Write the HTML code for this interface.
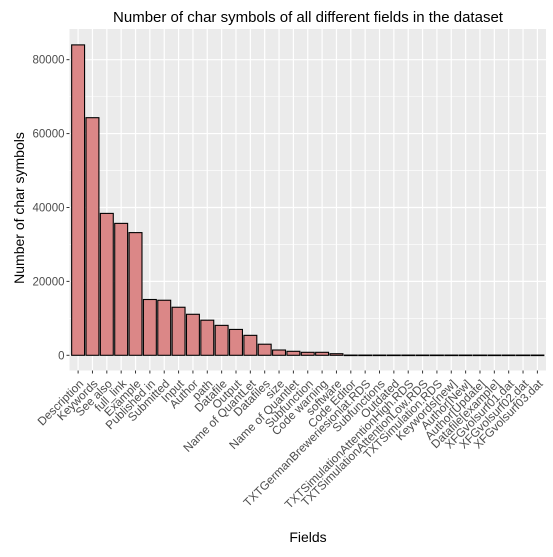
<!DOCTYPE html>
<html><head><meta charset="utf-8"><style>
body{margin:0;background:#fff;}
svg{font-family:"Liberation Sans",Arial,sans-serif;}
</style></head><body>
<svg id="chart" width="553" height="552">
<rect width="553" height="552" fill="#fff"/>
<text x="308" y="22" text-anchor="middle" font-size="15" fill="#000">Number of char symbols of all different fields in the dataset</text>
<text transform="translate(24,208) rotate(-90)" text-anchor="middle" font-size="14" fill="#000">Number of char symbols</text>
<text x="308" y="542" text-anchor="middle" font-size="14" fill="#000">Fields</text>
<g id="g"></g>
</svg>
<script>
const categories=["Description","Keywords","See also","full_link","Example","Published in","Submitted","Input","Author","path","Datafile","Output","Name of QuantLet","Datafiles","size","Name of Quantlet","Subfunction","Code warning","software","Code Editor","TXTGermanBreweriesionlat.RDS","Subfunctions","Outdated","TXTSimulationAttentionHigh.RDS","TXTSimulationAttentionLow.RDS","TXTSimulation.RDS","Keywords[new]","Author[New]","Author[Update]","Datafile[example]","XFGvolsurf01.dat","XFGvolsurf02.dat","XFGvolsurf03.dat"];
const values=[84000,64300,38400,35700,33200,15100,14900,13000,11100,9500,8100,7000,5400,3000,1430,1080,810,810,430,60,60,60,60,60,60,60,60,60,60,60,60,60,60];
const yTicks=[0,20000,40000,60000,80000];
const NS="http://www.w3.org/2000/svg";
const g=document.getElementById('g');
const L=69.5,R=546,T=29,B=355.3;
const yMax=88300;
const step=(R-L)/(categories.length+0.2);
const x=i=>L+step*(0.6+i);
function mk(t,a,p){const e=document.createElementNS(NS,t);for(const k in a)e.setAttribute(k,a[k]);(p||g).appendChild(e);return e;}
const yBottom=370.5;
const panel=mk('rect',{x:L,y:T,width:R-L,height:yBottom-T,fill:'#ebebeb'});


const ys=v=>B-v*(B-T)/yMax;
for(let i=0;i<yTicks.length;i++){const m=yTicks[i]+10000;const yy=ys(m);if(yy>T){const l=mk('line',{x1:L,x2:R,y1:yy,y2:yy,stroke:'#fff','stroke-width':0.6});}}
yTicks.forEach(t=>{const yy=ys(t);
const l=mk('line',{x1:L,x2:R,y1:yy,y2:yy,stroke:'#fff','stroke-width':1.2});


const tk=mk('line',{x1:L-3,x2:L,y1:yy,y2:yy,stroke:'#333','stroke-width':1});


const tx=mk('text',{x:L-5,y:yy+4,'text-anchor':'end','font-size':11.5,fill:'#4d4d4d'});tx.textContent=t;


});
categories.forEach((c,i)=>{const xx=x(i);
const l=mk('line',{x1:xx,x2:xx,y1:T,y2:yBottom,stroke:'#fff','stroke-width':1.2});

});
categories.forEach((c,i)=>{const xx=x(i),w=step*0.9;
const top=ys(values[i]);
const b=mk('rect',{x:xx-w/2,y:top,width:w,height:Math.max(B-top,0.5),fill:'#db8787',stroke:'#000','stroke-width':1.1});


const tk=mk('line',{x1:xx,x2:xx,y1:yBottom,y2:yBottom+3,stroke:'#333'});


const t=mk('text',{transform:`translate(${xx+6},${yBottom+14}) rotate(-45)`,'text-anchor':'end','font-size':11.8,fill:'#4d4d4d'});t.textContent=c;


});
</script>
</body></html>
